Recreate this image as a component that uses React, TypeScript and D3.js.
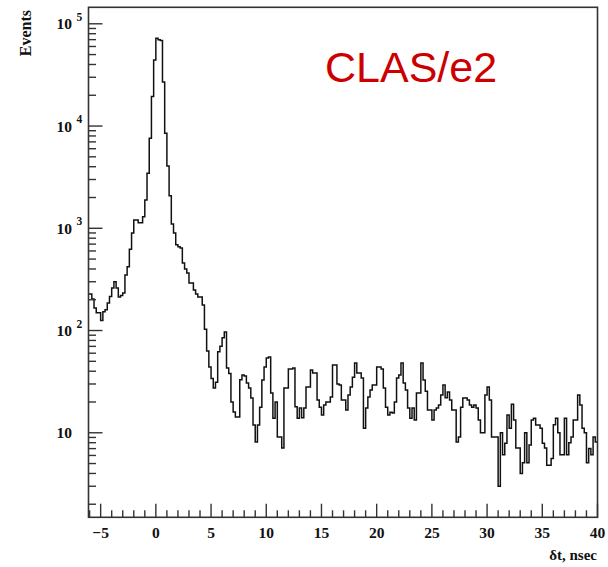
import React from "react";
import * as d3 from "d3";

const BIN_START = -6.2;
const BIN_WIDTH = 0.2;
const counts: number[] = [
  228, 228, 203, 166, 149, 149, 125, 153, 160, 186,
  215, 261, 300, 261, 213, 220, 233, 349, 420, 625,
  900, 1206, 1206, 1135, 1135, 1300, 1893, 3453, 7600, 19400,
  44300, 72300, 70000, 68500, 27000, 8510, 4070, 2084, 1100, 899,
  690, 660, 641, 457, 400, 365, 292, 292, 249, 228,
  213, 213, 178, 103, 63, 44, 34, 27.4, 31.2, 62,
  70, 85, 97, 43, 38, 20, 16, 14.3, 14.3, 33,
  36.7, 36, 30.6, 27.4, 21.9, 11.9, 8.1, 11.9, 17.8, 32.8,
  44, 54, 55, 24.5, 13.9, 20, 9.1, 9.1, 7.1, 27.4,
  27.4, 42, 42, 43, 18, 13.9, 17.5, 14, 17.5, 28,
  28, 41, 38.4, 38.4, 20.9, 17.8, 14.9, 18.7, 20, 20,
  22.4, 46, 46, 30, 29.3, 20.9, 20.9, 16.7, 23.4, 28,
  35, 48, 38.4, 38.4, 34.3, 11.1, 17.5, 22.4, 26.2, 29.3,
  29.3, 44, 44, 42, 27.4, 17.8, 14.9, 15.9, 15.6, 20,
  34.3, 36.7, 48, 30.6, 26.2, 17.5, 13.9, 17.5, 13.3, 24.5,
  24.5, 48, 32.8, 25.5, 16.7, 16.7, 13.3, 16.7, 17.5, 18.7,
  23.4, 29.3, 22, 25, 20.9, 16.7, 16.7, 8.1, 9.1, 17.8,
  21.9, 21.9, 20.9, 18.7, 17.8, 18.7, 17.5, 13.3, 10, 10,
  23.4, 28, 20.9, 9.1, 9.1, 9.1, 3, 10, 6.1, 7.9,
  14.9, 11.1, 19, 13.3, 7.1, 7.1, 4, 5.1, 10, 5.1,
  7.6, 13.3, 13.9, 11.9, 11.9, 11.1, 7.9, 7.1, 4.8, 4.8,
  5.6, 12, 13.9, 10, 6.1, 6.1, 13.9, 6.1, 8, 9.1,
  13.3, 13.3, 23.4, 18.7, 11.1, 10, 5.1, 7, 6.1, 9.1,
  8.1,
];

const xMajorTicks = [-5, 0, 5, 10, 15, 20, 25, 30, 35, 40];
const xTickLabels = ["\u22125", "0", "5", "10", "15", "20", "25", "30", "35", "40"];
const yDecades = [10, 100, 1000, 10000, 100000];
const yExponents = ["", "2", "3", "4", "5"];

const W = 608;
const H = 567;
const L = 88.5, R = 597.5, T = 7.3, B = 517.3;
const SERIF = "'Liberation Serif', 'DejaVu Serif', serif";

export default function App() {
  const x = d3.scaleLinear().domain([-6.1, 40]).range([L, R]);
  const y = d3.scaleLog().domain([1.49, 145000]).range([B, T]);

  const pts: [number, number][] = [];
  counts.forEach((c, i) => {
    const x0 = BIN_START + i * BIN_WIDTH;
    const x1 = x0 + BIN_WIDTH;
    pts.push([x(x0), y(c)]);
    pts.push([x(x1), y(c)]);
  });
  const path = d3.line()(pts) || "";

  const xMinor: number[] = d3.range(-6, 41, 1).filter((v) => v % 5 !== 0);
  const yMinor: number[] = [];
  [1, 10, 100, 1000, 10000, 100000].forEach((d) => {
    for (let m = 2; m <= 9; m++) {
      const v = d * m;
      if (v >= 1.49 && v <= 145000) yMinor.push(v);
    }
  });

  const axisColor = "#333";

  return (
    <svg
      width={W}
      height={H}
      style={{ position: "absolute", left: 0, top: 0, background: "#fff" }}
    >
      <defs>
        <clipPath id="plotclip">
          <rect x={L} y={T} width={R - L} height={B - T} />
        </clipPath>
      </defs>
      <rect x={0} y={0} width={W} height={H} fill="#fff" />
      <path
        d={path}
        fill="none"
        stroke="#111"
        strokeWidth={1.5}
        clipPath="url(#plotclip)"
      />
      <rect
        x={L}
        y={T}
        width={R - L}
        height={B - T}
        fill="none"
        stroke={axisColor}
        strokeWidth={1.6}
      />
      {xMajorTicks.map((t) => (
        <line key={"xM" + t} x1={x(t)} x2={x(t)} y1={B} y2={B - 13.6} stroke={axisColor} strokeWidth={1.4} />
      ))}
      {xMinor.map((t) => (
        <line key={"xm" + t} x1={x(t)} x2={x(t)} y1={B} y2={B - 7} stroke={axisColor} strokeWidth={1.4} />
      ))}
      {xMajorTicks.map((t, i) => (
        <text
          key={"xl" + t}
          x={x(t)}
          y={537.5}
          textAnchor="middle"
          fontFamily={SERIF}
          fontWeight="bold"
          fontSize={15.5}
          fill="#111"
        >
          {xTickLabels[i]}
        </text>
      ))}
      {yDecades.map((t) => (
        <line key={"yM" + t} x1={L} x2={L + 14} y1={y(t)} y2={y(t)} stroke={axisColor} strokeWidth={1.4} />
      ))}
      {yMinor.map((t) => (
        <line key={"ym" + t} x1={L} x2={L + 7.5} y1={y(t)} y2={y(t)} stroke={axisColor} strokeWidth={1.4} />
      ))}
      {yDecades.map((t, i) => (
        <g key={"yl" + t}>
          <text
            x={72}
            y={y(t) + 5.5}
            textAnchor="end"
            fontFamily={SERIF}
            fontWeight="bold"
            fontSize={15.5}
            fill="#111"
          >
            10
          </text>
          {yExponents[i] && (
            <text
              x={76.5}
              y={y(t) - 3}
              fontFamily={SERIF}
              fontWeight="bold"
              fontSize={11.5}
              fill="#111"
            >
              {yExponents[i]}
            </text>
          )}
        </g>
      ))}
      <text
        transform="translate(31,10) rotate(-90)"
        textAnchor="end"
        fontFamily={SERIF}
        fontWeight="bold"
        fontSize={16}
        fill="#111"
      >
        Events
      </text>
      <text
        x={597}
        y={560}
        textAnchor="end"
        fontFamily={SERIF}
        fontWeight="bold"
        fontSize={15}
        fill="#111"
      >
        δt, nsec
      </text>
      <text
        x={325}
        y={82}
        fontFamily="'Liberation Sans', Arial, sans-serif"
        fontSize={43}
        fill="#cc0000"
      >
        CLAS/e2
      </text>
    </svg>
  );
}
